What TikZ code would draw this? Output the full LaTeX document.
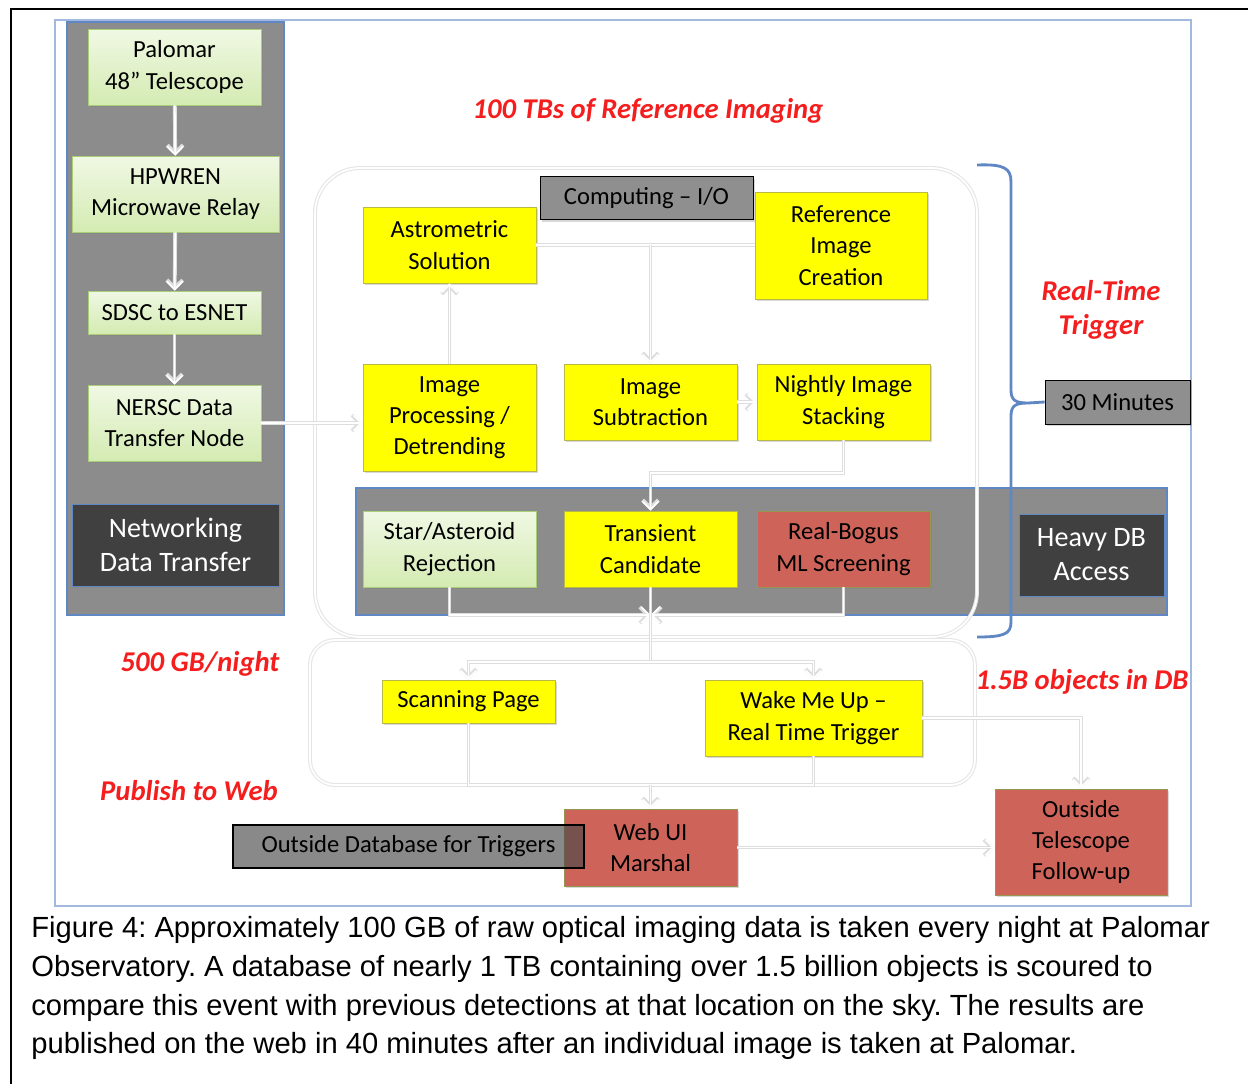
\documentclass[tikz,border=0pt]{standalone}
\usepackage{fontspec}
\setmainfont{Carlito}
\newfontfamily\capfont{Liberation Sans}
\usetikzlibrary{arrows.meta, positioning, shadows}
\definecolor{PanelGray}{RGB}{140,140,140}
\definecolor{FrameBlue}{RGB}{95,135,195}
\definecolor{PaleBlue}{RGB}{160,185,220}
\definecolor{BoxYellow}{RGB}{255,255,0}
\definecolor{YellowLine}{RGB}{185,185,70}
\definecolor{BoxRed}{RGB}{205,99,89}
\definecolor{RedLine}{RGB}{150,150,80}
\definecolor{DarkBox}{RGB}{64,64,64}
\definecolor{NoteRed}{RGB}{245,30,30}
\definecolor{GreenTop}{RGB}{240,248,228}
\definecolor{GreenBot}{RGB}{212,235,178}
\definecolor{GreenLine}{RGB}{170,205,120}

\begin{document}
\begin{tikzpicture}[x=0.02cm, y=-0.02cm,
  plain/.style={minimum width=3.46cm, minimum height=1.52cm, align=center,
               inner sep=1pt, font=\fontsize{14}{17.8}\selectfont},
  base/.style={plain,
               drop shadow={shadow xshift=1.2pt, shadow yshift=-1.2pt, opacity=0.3}},
  ybox/.style={base, draw=YellowLine, fill=BoxYellow},
  gbox/.style={base, draw=GreenLine, top color=GreenTop, bottom color=GreenBot},
  rbox/.style={base, draw=RedLine, fill=BoxRed},
  dbox/.style={base, draw=FrameBlue, fill=DarkBox, text=white,
               font=\fontsize{16}{19.3}\selectfont},
  tagbox/.style={base, draw=black, fill=black!44, minimum height=0.86cm},
  note/.style={text=NoteRed, align=center,
               font=\fontsize{16.3}{19.3}\selectfont\bfseries\itshape},
  conn/.style={white, line width=1pt,
               preaction={draw=black!13, line width=2.2pt}},
  arr/.style={conn, -{Straight Barb[length=4.5pt, width=9pt]}}
]
  \useasboundingbox (0,0) rectangle (1248,1083);
  \fill[white] (0,0) rectangle (1248,1083);
  % frames
  \draw[line width=1.2pt] (11,1090) -- (11,9) -- (1260,9);
  \draw[PaleBlue, line width=0.6pt] (55,20) rectangle (1191,906);

  % left panel: networking
  \draw[FrameBlue, fill=PanelGray, line width=0.8pt] (67,22) rectangle (284,615);
  \node[gbox] (tel) at (174.5,67) {Palomar\\48” Telescope};
  \node[gbox, minimum width=4.14cm] (relay) at (175.5,194) {HPWREN\\Microwave Relay};
  \node[gbox, minimum height=0.86cm] (sdsc) at (174.5,312.5) {SDSC to ESNET};
  \node[gbox] (nersc) at (174.5,423) {NERSC Data\\Transfer Node};
  \node[dbox, minimum width=4.14cm, minimum height=1.64cm] (net) at (175.5,545) {Networking\\Data Transfer};

  % DB band and computing block
  \draw[FrameBlue, fill=PanelGray, line width=0.8pt] (356,488) rectangle (1167,615);
  \draw[black!10, line width=2.2pt, rounded corners=0.9cm] (315,168) rectangle (977,637);
  \draw[white, line width=1pt, rounded corners=0.9cm] (315,168) rectangle (977,637);
  \draw[black!10, line width=2.2pt, rounded corners=0.5cm] (310,640) rectangle (975,785);
  \draw[white, line width=1pt, rounded corners=0.5cm] (310,640) rectangle (975,785);

  \node[tagbox, minimum width=4.26cm] (comp) at (646.5,198) {Computing – I/O};
  \node[ybox] (astro) at (449.5,245) {Astrometric\\Solution};
  \node[ybox, minimum width=3.44cm, minimum height=2.14cm] (refimg) at (841,245.5) {Reference\\Image\\Creation};
  \node[ybox, minimum height=2.14cm] (improc) at (449.5,417.5) {Image\\Processing /\\Detrending};
  \node[ybox] (imsub) at (650.5,402) {Image\\Subtraction};
  \node[ybox] (stack) at (843.5,402) {Nightly Image\\Stacking};
  \node[gbox] (rejec) at (449.5,549) {Star/Asteroid\\Rejection};
  \node[ybox] (trans) at (650.5,549) {Transient\\Candidate};
  \node[rbox] (rb) at (843.5,549) {Real-Bogus\\ML Screening};
  \node[dbox, minimum width=2.9cm, minimum height=1.64cm] (heavy) at (1091.5,555) {Heavy DB\\Access};
  \node[tagbox, minimum width=2.9cm, minimum height=0.88cm] (min30) at (1117.5,402) {30 Minutes};

  % publishing
  \node[ybox, minimum height=0.86cm] (scan) at (468.5,701.5) {Scanning Page};
  \node[ybox, minimum width=4.34cm] (wake) at (813.5,718) {Wake Me Up –\\Real Time Trigger};
  \node[rbox, minimum height=1.54cm] (web) at (650.5,847.5) {Web UI\\Marshal};
  \node[rbox, minimum width=3.44cm, minimum height=2.12cm] (follow) at (1081,842) {Outside\\Telescope\\Follow-up};
  \node[plain, draw=black, line width=0.9pt, fill=black!72, fill opacity=0.64, text opacity=1,
        minimum width=7.02cm, minimum height=0.86cm] (outdb) at (408.5,846.5) {Outside Database for Triggers};

  % notes
  \node[note] (refnote) at (648,111) {100 TBs of Reference Imaging};
  \node[note] (rtnote) at (1101,310) {Real-Time\\Trigger};
  \node[note] (ratenote) at (200,664) {500 GB/night};
  \node[note] (dbnote) at (1082,682) {1.5B objects in DB};
  \node[note] (webnote) at (189,791) {Publish to Web};

  % brace
  \coordinate (tip) at (1028,403);
  \draw[FrameBlue, line width=1.6pt]
    (977,165) .. controls (1004,164) and (1011,168) .. (1011,182) -- (1011,390)
    .. controls (1011,400) and (1015,403) .. (tip)
    .. controls (1015,403) and (1011,406) .. (1011,416) -- (1011,622)
    .. controls (1011,634) and (1004,637) .. (977,637);
  \draw[FrameBlue, line width=1.6pt] (tip) -- (min30.west);

  % connectors
  \draw[arr] (tel) -- (relay);
  \draw[arr] (relay) -- (sdsc);
  \draw[arr] (sdsc) -- (nersc);
  \draw[arr] (nersc) -- (nersc -| improc.west);
  \draw[arr] (improc) -- (astro);
  \draw[conn] (astro.east) -- (astro.east -| refimg.west);
  \draw[arr] (astro.east -| imsub.north) -- (imsub);
  \draw[arr] (imsub) -- (stack);
  \draw[arr] (stack.south) -- ++(0,33) -| (trans.north);
  \coordinate (merge) at (650.5,615);
  \draw[arr] (rejec.south) |- (merge);
  \draw[arr] (rb.south) |- (merge);
  \coordinate (split) at (650.5,662);
  \draw[conn] (trans.south) -- (split);
  \draw[arr] (split) -| (scan.north);
  \draw[arr] (split) -| (wake.north);
  \coordinate (pub) at (650.5,785);
  \draw[conn] (scan.south) -- (scan.south |- pub) -- (wake.south |- pub) -- (wake.south);
  \draw[arr] (pub) -- (web.north);
  \draw[arr] (wake.east) -| (follow.north);
  \draw[arr] (web.east) -- (web.east -| follow.west);

  % caption
  \node[anchor=north west, align=left, inner sep=0pt,
        font=\capfont\fontsize{16.6}{22.1}\selectfont\frenchspacing] (caption) at (31,916)
    {Figure 4: Approximately 100 GB of raw optical imaging data is taken every night at Palomar\\
     Observatory. A database of nearly 1 TB containing over 1.5 billion objects is scoured to\\
     compare this event with previous detections at that location on the sky. The results are\\
     published on the web in 40 minutes after an individual image is taken at Palomar.};
\end{tikzpicture}
\end{document}
